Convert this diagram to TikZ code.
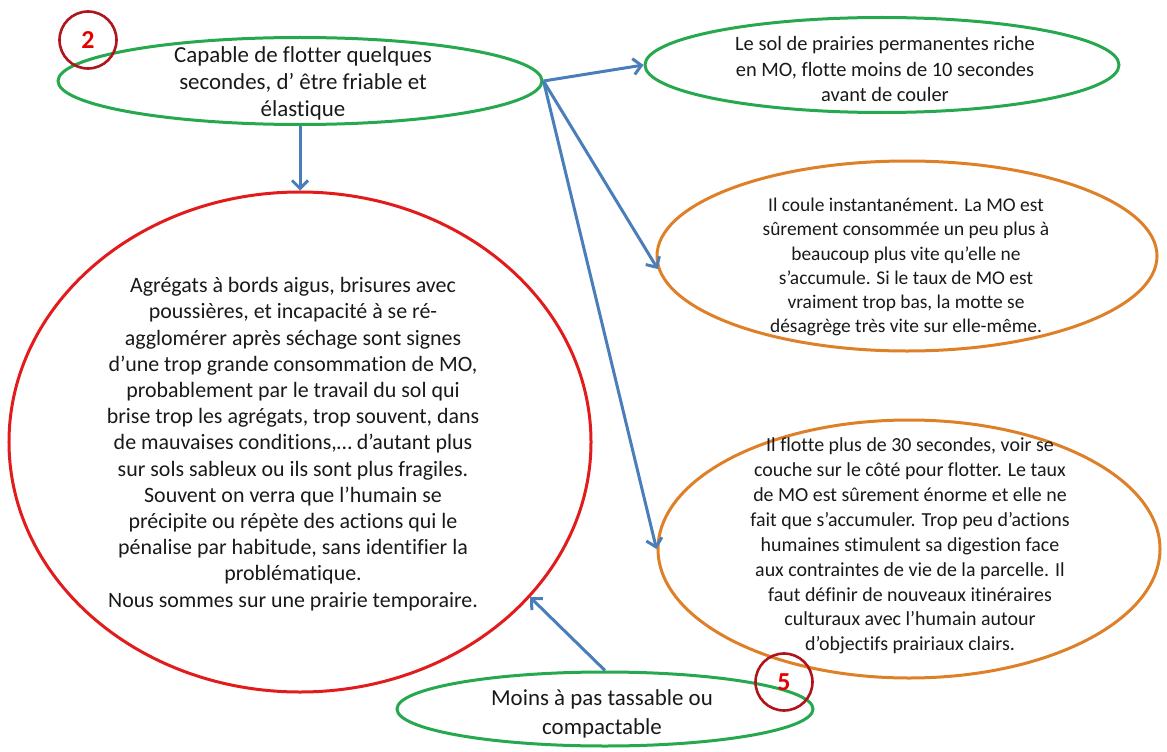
\documentclass[tikz,border=0pt]{standalone}
\usepackage{fontspec}
\setmainfont{Carlito}[Ligatures=NoCommon]
\usepackage{tikz}
\usetikzlibrary{shapes.geometric, arrows.meta}
\definecolor{vertclair}{RGB}{38, 168, 78}
\definecolor{rougevif}{RGB}{226, 28, 28}
\definecolor{orangeterre}{RGB}{222, 128, 40}
\definecolor{bleufleche}{RGB}{74, 126, 186}
\definecolor{rougesombre}{RGB}{176, 20, 26}

\begin{document}
\begin{tikzpicture}[x=1bp, y=-1bp,
    >={Straight Barb[length=8bp, width=16bp]},
    ovale/.style={ellipse, draw=#1, line width=3bp, inner sep=0pt},
    texte/.style={align=center, inner sep=0pt, text=black!90},
    fleche/.style={->, line width=3bp, draw=bleufleche},
    pastille/.style={circle, draw=rougesombre, line width=2.6bp, minimum size=57bp, inner sep=0pt,
                     text=red!90!black, font=\fontsize{26}{26}\selectfont\bfseries}]
    \useasboundingbox (0,0) rectangle (1167,752);
    \node[ovale=vertclair, minimum width=484bp, minimum height=87bp] (flotter) at (300,81) {};
    \node[ovale=vertclair, minimum width=474bp, minimum height=95bp] (prairie) at (882,65) {};
    \node[ovale=orangeterre, minimum width=500bp, minimum height=190bp] (coule) at (907,256) {};
    \node[ovale=orangeterre, minimum width=502bp, minimum height=258bp] (surnage) at (909,549) {};
    \node[ovale=rougevif, minimum width=582bp, minimum height=500bp] (agregats) at (300,442) {};
    \node[ovale=vertclair, minimum width=416bp, minimum height=74bp] (tassable) at (605,709) {};
    \node[texte, font=\fontsize{23}{27}\selectfont] (tflotter) at (303,83)
        {Capable de flotter quelques\\secondes, d’ être friable et\\élastique};
    \node[texte, font=\fontsize{20.5}{26}\selectfont] (tprairie) at (885,69)
        {Le sol de prairies permanentes riche\\en MO, flotte moins de 10 secondes\\avant de couler};
    \node[texte, font=\fontsize{19.5}{24.2}\selectfont] (tcoule) at (906,267)
        {Il coule instantanément. La MO est\\sûrement consommée un peu plus à\\beaucoup plus vite qu’elle ne\\s’accumule. Si le taux de MO est\\vraiment trop bas, la motte se\\désagrège très vite sur elle-même.};
    \node[texte, font=\fontsize{20}{25}\selectfont] (tsurnage) at (910,546)
        {Il flotte plus de 30 secondes, voir se\\couche sur le côté pour flotter. Le taux\\de MO est sûrement énorme et elle ne\\fait que s’accumuler. Trop peu d’actions\\humaines stimulent sa digestion face\\aux contraintes de vie de la parcelle. Il\\faut définir de nouveaux itinéraires\\culturaux avec l’humain autour\\d’objectifs prairiaux clairs.};
    \node[texte, font=\fontsize{22}{26.3}\selectfont] (tagregats) at (293,444)
        {Agrégats à bords aigus, brisures avec\\poussières, et incapacité à se ré-\\agglomérer après séchage sont signes\\d’une trop grande consommation de MO,\\probablement par le travail du sol qui\\brise trop les agrégats, trop souvent, dans\\de mauvaises conditions,… d’autant plus\\sur sols sableux ou ils sont plus fragiles.\\Souvent on verra que l’humain se\\précipite ou répète des actions qui le\\pénalise par habitude, sans identifier la\\problématique.\\Nous sommes sur une prairie temporaire.};
    \node[texte, font=\fontsize{23}{29}\selectfont] (ttassable) at (602,714)
        {Moins à pas tassable ou\\compactable};
    \draw[fleche] (flotter.south) -- (agregats.north);
    \draw[fleche] (flotter.east) -- (prairie.west);
    \draw[fleche] (flotter.east) -- (coule.183);
    \draw[fleche] (flotter.east) -- (surnage.west);
    \draw[fleche] (tassable.north) -- (agregats.-34);
    \node[pastille] (deux) at (88,40) {2};
    \node[pastille] (cinq) at (784,682) {5};
\end{tikzpicture}
\end{document}
